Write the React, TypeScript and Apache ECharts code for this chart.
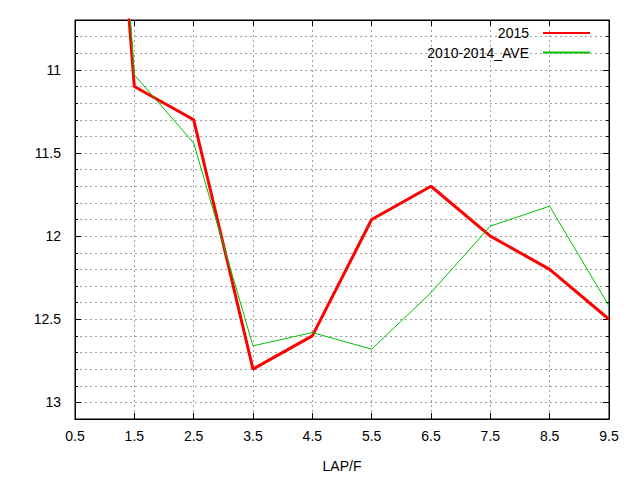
import React, { useEffect, useRef } from 'react'
import * as echarts from 'echarts'

/*==================================================================
    DATA
==================================================================*/
const LAPS = [0.5, 1.5, 2.5, 3.5, 4.5, 5.5, 6.5, 7.5, 8.5, 9.5]
const Y2015 = [6.5, 11.1, 11.3, 12.8, 12.6, 11.9, 11.7, 12.0, 12.2, 12.5]
const YAVE = [6.0, 11.03, 11.44, 12.66, 12.58, 12.68, 12.34, 11.94, 11.82, 12.42]
const Y_LABELS = [11, 11.5, 12, 12.5, 13]

/*==================================================================
    CONSTANTS
==================================================================*/
const FONT = '"Liberation Sans", Arial, sans-serif'
const GRID_LINE = { show: true, lineStyle: { color: '#a0a0a0', type: [2, 3] as number[], width: 1 } }
const Y_RANGE = { min: 10.7, max: 13.1, inverse: true }

const pairs = (ys: number[]) => LAPS.map((x, i) => [x, ys[i]])

/*==================================================================
    CHART
==================================================================*/
export default function App() {
  const ref = useRef<HTMLDivElement>(null)

  useEffect(() => {
    if (!ref.current) return
    const chart = echarts.init(ref.current, undefined, { renderer: 'svg' })

    const option: echarts.EChartsOption = {
      animation: false,
      backgroundColor: '#fff',
      textStyle: { fontFamily: FONT },
      grid: { left: 75, right: 31, top: 20, bottom: 61, show: true, borderColor: '#000', borderWidth: 1, containLabel: false },
      legend: {
        orient: 'vertical', right: 49, top: 26, padding: 0,
        itemWidth: 47, itemHeight: 14, itemGap: 5.5, align: 'right',
        itemStyle: { opacity: 0 },
        textStyle: { fontSize: 14, color: '#000', fontFamily: FONT, padding: [0, 9, 0, 0] },
        data: ['2015', '2010-2014_AVE'],
      },
      xAxis: [
        {
          type: 'value', min: 0.5, max: 9.5, interval: 1, position: 'bottom',
          name: 'LAP/F', nameLocation: 'middle', nameGap: 40,
          nameTextStyle: { fontSize: 14, color: '#000', fontFamily: FONT },
          axisLine: { show: true, lineStyle: { color: '#000' } },
          axisTick: { show: true, inside: true, length: 6, lineStyle: { color: '#000' } },
          axisLabel: { fontSize: 14, color: '#000', margin: 10, fontFamily: FONT },
          splitLine: GRID_LINE,
        },
        {
          type: 'value', min: 0.5, max: 9.5, interval: 1, position: 'top',
          axisLine: { show: true, lineStyle: { color: '#000' } },
          axisTick: { show: true, inside: true, length: 6, lineStyle: { color: '#000' } },
          axisLabel: { show: false },
          splitLine: { show: false },
        },
      ],
      yAxis: [
        {
          type: 'value', ...Y_RANGE, interval: 0.1, position: 'left', offset: 0,
          axisLine: { show: true, lineStyle: { color: '#000' } },
          axisTick: { show: true, inside: true, length: 3, lineStyle: { color: '#000' } },
          axisLabel: { show: false },
          splitLine: GRID_LINE,
        },
        {
          type: 'value', ...Y_RANGE, position: 'left', offset: 0,
          axisLine: { show: false },
          axisTick: { show: true, inside: true, length: 6, lineStyle: { color: '#000' }, customValues: Y_LABELS },
          axisLabel: { show: true, fontSize: 14, color: '#000', margin: 14, fontFamily: FONT, customValues: Y_LABELS },
          splitLine: { show: false },
        },
        {
          type: 'value', ...Y_RANGE, interval: 0.1, position: 'right', offset: 0,
          axisLine: { show: true, lineStyle: { color: '#000' } },
          axisTick: { show: true, inside: true, length: 3, lineStyle: { color: '#000' } },
          axisLabel: { show: false },
          splitLine: { show: false },
        },
        {
          type: 'value', ...Y_RANGE, position: 'right', offset: 0,
          axisLine: { show: false },
          axisTick: { show: true, inside: true, length: 6, lineStyle: { color: '#000' }, customValues: Y_LABELS },
          axisLabel: { show: false },
          splitLine: { show: false },
        },
      ],
      series: [
        {
          name: '2015', type: 'line', xAxisIndex: 0, yAxisIndex: 0, data: pairs(Y2015),
          symbol: 'none', clip: true,
          lineStyle: { color: '#ff0000', width: 3 }, itemStyle: { color: '#ff0000' },
        },
        {
          name: '2010-2014_AVE', type: 'line', xAxisIndex: 0, yAxisIndex: 0, data: pairs(YAVE),
          symbol: 'none', clip: true,
          lineStyle: { color: '#00c000', width: 1 }, itemStyle: { color: '#00c000' },
        },
      ],
    }

    chart.setOption(option)
    return () => { chart.dispose() }
  }, [])

  return <div ref={ref} style={{ position: 'fixed', left: 0, top: 0, width: 640, height: 480, background: '#fff' }} />
}
